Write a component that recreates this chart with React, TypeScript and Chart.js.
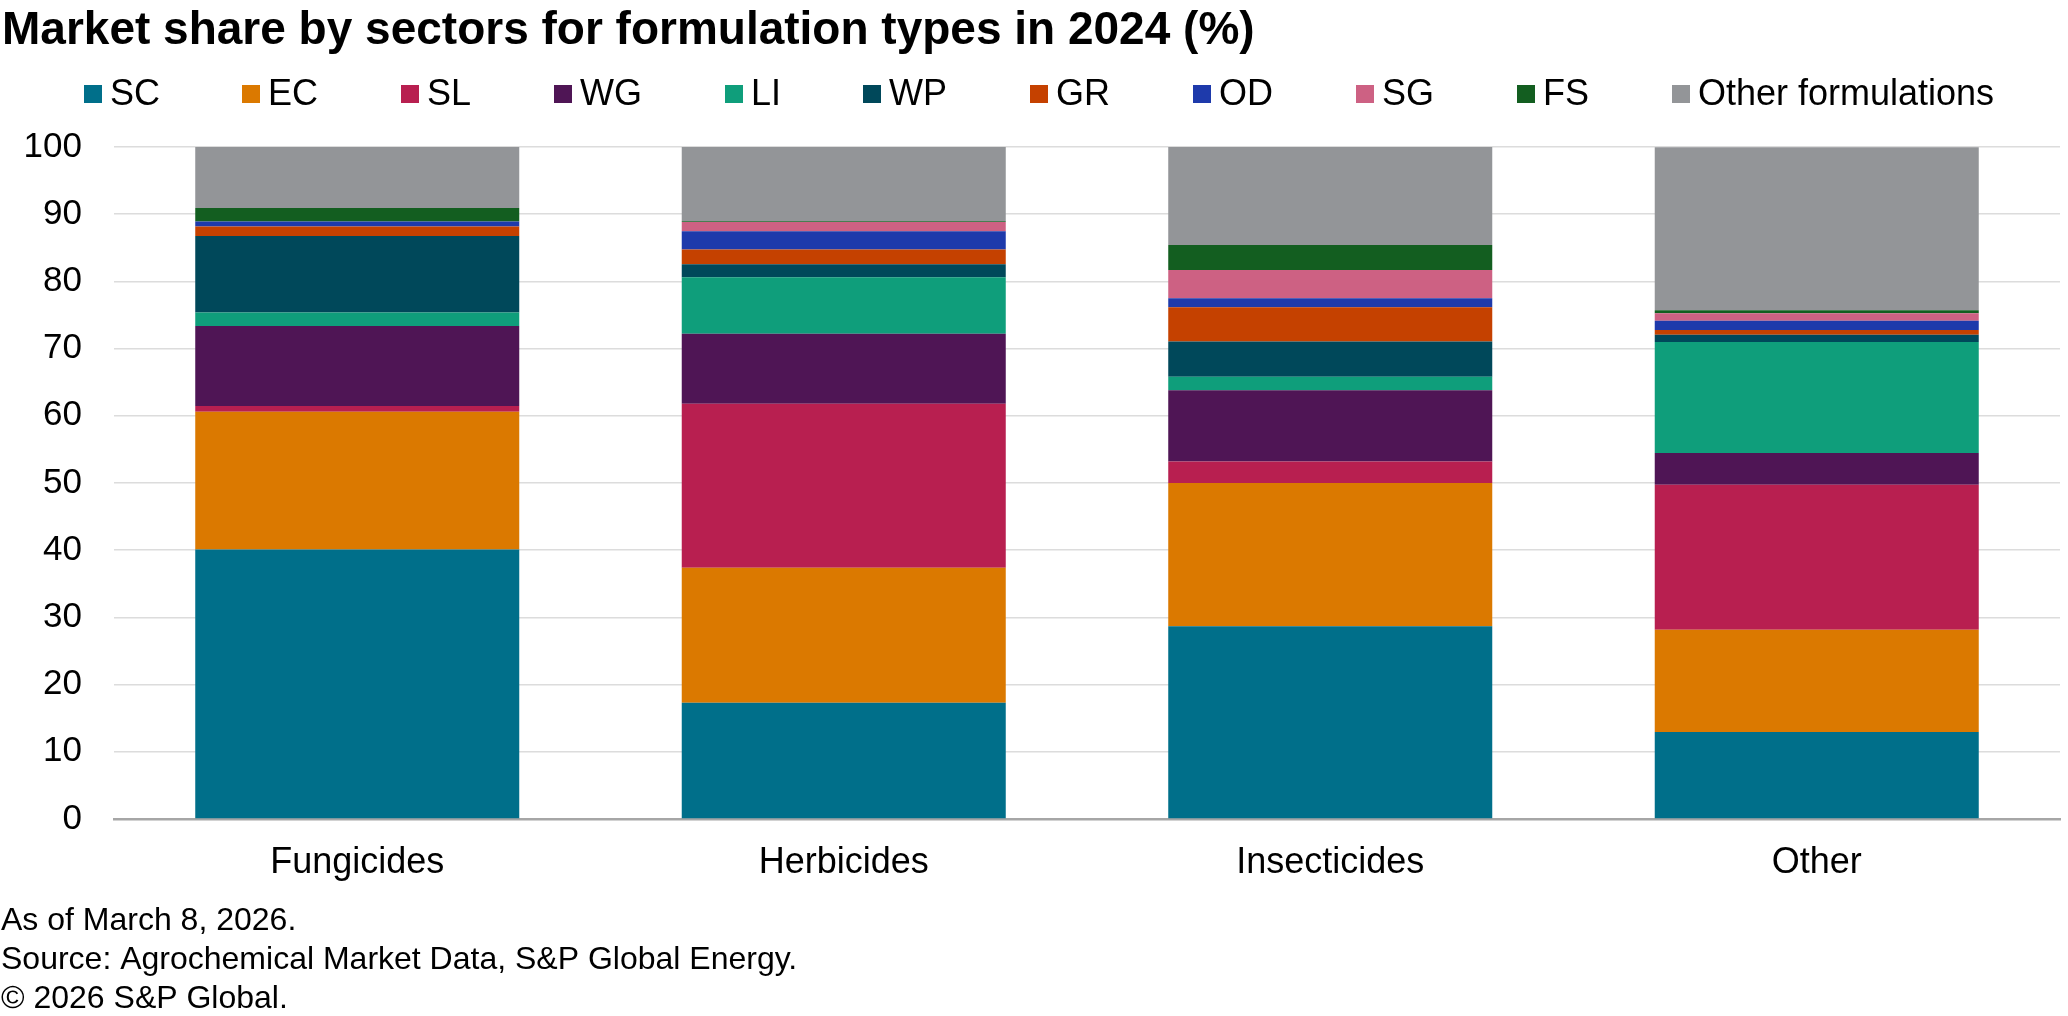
import React, { useEffect, useRef } from "react";
import { Chart, registerables } from "chart.js";

Chart.register(...registerables);

const TITLE = "Market share by sectors for formulation types in 2024 (%)";
const FOOTER = [
  "As of March 8, 2026.",
  "Source: Agrochemical Market Data, S&P Global Energy.",
  "\u00A9 2026 S&P Global.",
];

const categories = ["Fungicides", "Herbicides", "Insecticides", "Other"];
const yTicks = [0, 10, 20, 30, 40, 50, 60, 70, 80, 90, 100];

const seriesNames = ["SC", "EC", "SL", "WG", "LI", "WP", "GR", "OD", "SG", "FS", "Other formulations"];
const SC = [40.1, 17.3, 28.7, 12.95];
const EC = [20.5, 20.1, 21.3, 15.2];
const SL = [0.86, 24.4, 3.2, 21.6];
const WG = [11.9, 10.4, 10.6, 4.7];
const LI = [2.0, 8.4, 2.0, 16.55];
const WP = [11.4, 1.95, 5.25, 1.05];
const GR = [1.4, 2.2, 5.1, 0.7];
const OD = [0.75, 2.7, 1.35, 1.4];
const SG = [0, 1.4, 4.2, 1.1];
const FS = [2.0, 0.1, 3.7, 0.45];
const OTHER = [9.1, 11.05, 14.6, 24.25];
const seriesValues = [SC, EC, SL, WG, LI, WP, GR, OD, SG, FS, OTHER];

const seriesColors = [
  "#006f8a",
  "#db7900",
  "#b81f50",
  "#4f1555",
  "#0f9e7b",
  "#00485a",
  "#c54100",
  "#1e3aab",
  "#cd6183",
  "#135e20",
  "#939598",
];

// layout (not data)
const legendX = [84, 242, 401, 554, 725, 863, 1030, 1193, 1356, 1517, 1672];
const FONT = '"Liberation Sans", Arial, sans-serif';

const overlayPlugin = {
  id: "overlay",
  afterDraw(chart: any) {
    const ctx = chart.ctx as CanvasRenderingContext2D;
    ctx.save();
    ctx.fillStyle = "#000";
    ctx.textAlign = "left";
    ctx.textBaseline = "alphabetic";
    ctx.font = `bold 46px ${FONT}`;
    ctx.fillText(TITLE, 2, 44);

    ctx.font = `36px ${FONT}`;
    seriesNames.forEach((name, i) => {
      const x = legendX[i];
      ctx.fillStyle = seriesColors[i];
      ctx.fillRect(x, 85, 18, 18);
      ctx.fillStyle = "#000";
      ctx.fillText(name, x + 26, 105);
    });

    ctx.font = `32px ${FONT}`;
    FOOTER.forEach((line, i) => {
      ctx.fillText(line, 1, 930 + i * 39);
    });
    ctx.restore();
  },
};

export default function App() {
  const ref = useRef<HTMLCanvasElement | null>(null);

  useEffect(() => {
    if (!ref.current) return;
    const chart = new Chart(ref.current, {
      type: "bar",
      data: {
        labels: categories,
        datasets: seriesNames.map((name, i) => ({
          label: name,
          data: seriesValues[i],
          backgroundColor: seriesColors[i],
          borderWidth: 0,
          barPercentage: 1,
          categoryPercentage: 0.666,
        })),
      },
      options: {
        animation: false,
        responsive: false,
        devicePixelRatio: 1,
        layout: { padding: { top: 147, left: 0, right: 8, bottom: 0 } },
        plugins: {
          legend: { display: false },
          title: { display: false },
          tooltip: { enabled: false },
        },
        scales: {
          x: {
            stacked: true,
            grid: { display: false, tickLength: 0 },
            border: { display: true, color: "#a6a6a6", width: 2.5 },
            ticks: {
              color: "#000",
              font: { family: FONT, size: 36 },
              padding: 22,
              maxRotation: 0,
            },
            afterFit(scale: any) {
              scale.height = 197;
            },
          },
          y: {
            stacked: true,
            min: 0,
            max: 100,
            afterBuildTicks(scale: any) {
              scale.ticks = yTicks.map((v) => ({ value: v }));
            },
            grid: {
              color: (c: any) => (c.tick && c.tick.value === 0 ? "rgba(0,0,0,0)" : "#dcdcdc"),
              lineWidth: 1.5,
              tickLength: 0,
              drawTicks: false,
            },
            border: { display: false },
            ticks: {
              color: "#000",
              font: { family: FONT, size: 35 },
              padding: 32,
            },
            afterFit(scale: any) {
              scale.width = 114;
            },
          },
        },
      },
      plugins: [overlayPlugin],
    });
    return () => chart.destroy();
  }, []);

  return (
    <div style={{ position: "absolute", left: 0, top: 0, width: 2068, height: 1016, background: "#fff" }}>
      <canvas ref={ref} width={2068} height={1016} style={{ width: 2068, height: 1016, display: "block" }} />
    </div>
  );
}
